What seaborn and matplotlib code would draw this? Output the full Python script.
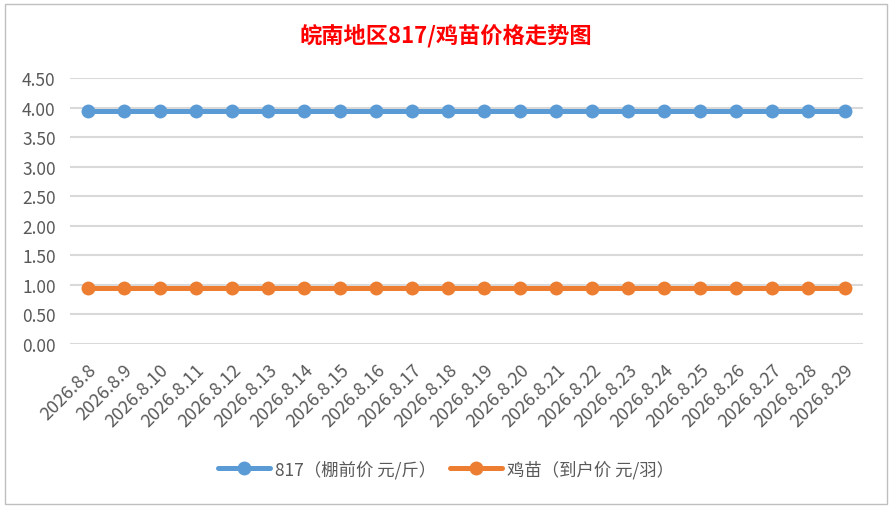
import matplotlib
matplotlib.use("Agg")
import matplotlib.pyplot as plt
import matplotlib.patches as patches
import pandas as pd
import seaborn as sns

dates = ["2026.8.%d" % d for d in range(8, 30)]
price_817 = [3.95] * 22
price_chick = [0.95] * 22
name_817 = "817（棚前价 元/斤）"
name_chick = "鸡苗（到户价 元/羽）"

df = pd.DataFrame({
    "date": dates * 2,
    "price": price_817 + price_chick,
    "series": [name_817] * len(dates) + [name_chick] * len(dates),
})

sns.set_theme(style="white")
plt.rcParams["font.family"] = ["Noto Sans CJK SC", "DejaVu Sans"]

fig = plt.figure(figsize=(8.92, 5.10), dpi=100)
ax = fig.add_axes([0.078, 0.324, 0.889, 0.521])

sns.lineplot(data=df, x="date", y="price", hue="series", sort=False,
             palette=["#5B9BD5", "#ED7D31"], linewidth=3.6, marker="o",
             markersize=10, markeredgewidth=0, ax=ax)

ax.set_ylim(0, 4.5)
ax.set_yticks([i * 0.5 for i in range(10)])
ax.set_yticklabels(["%.2f" % (i * 0.5) for i in range(10)])
ax.set_xlim(-0.5, len(dates) - 0.5)
ax.grid(axis="y", color="#D9D9D9", linewidth=1.5)
ax.set_axisbelow(True)
for s in ax.spines.values():
    s.set_visible(False)
ax.tick_params(axis="both", length=0, labelsize=12.5, colors="#595959")
ax.tick_params(axis="y", pad=10)
ax.tick_params(axis="x", pad=12, labelsize=13)
plt.setp(ax.get_xticklabels(), rotation=45, ha="right", rotation_mode="anchor")
ax.set_xlabel("")
ax.set_ylabel("")

ax.legend(loc="center", bbox_to_anchor=(0.5, 0.078), bbox_transform=fig.transFigure,
          ncol=2, frameon=False, fontsize=12.5, handlelength=3.0, handletextpad=0.3,
          columnspacing=0.8, labelcolor="#595959")

fig.text(0.5, 0.93, "皖南地区817/鸡苗价格走势图", ha="center", va="center",
         color="red", fontsize=16, fontweight="bold")

fig.patches.append(patches.Rectangle((0.006, 0.01), 0.988, 0.98, transform=fig.transFigure,
                                     fill=False, edgecolor="#BFBFBF", linewidth=1))

fig.savefig("out.png", dpi=100)
